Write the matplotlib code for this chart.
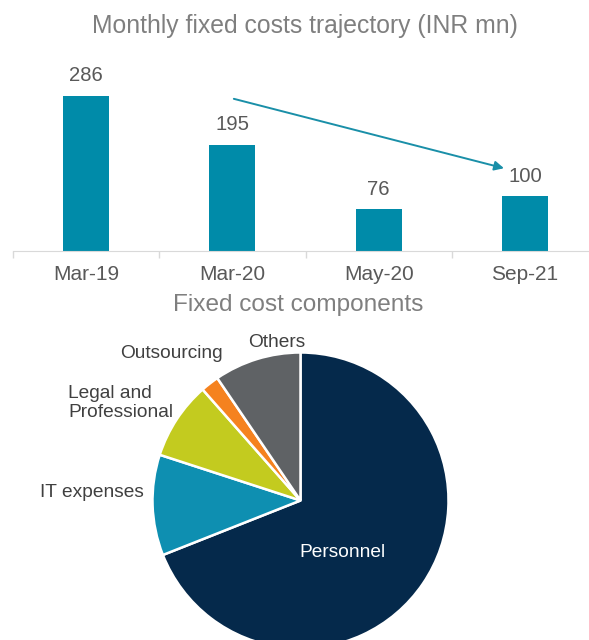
import matplotlib.pyplot as plt
import numpy as np

plt.rcParams['font.family'] = ['Liberation Sans', 'DejaVu Sans']

# ── Data ──────────────────────────────────────────────────────────────────────

months = ['Mar-19', 'Mar-20', 'May-20', 'Sep-21']
fixed_costs = [286, 195, 76, 100]

components = ['Personnel', 'IT expenses', 'Legal and\nProfessional', 'Outsourcing', 'Others']
shares = [69, 11, 8.5, 2, 9.5]

BAR_COLOUR = '#008ba9'
PIE_COLOURS = ['#05294b', '#0e8fb1', '#c3cb1f', '#f5821f', '#5f6265']
TITLE_GREY = '#7f7f7f'
TEXT_GREY = '#595959'

W, H = 589, 640
fig = plt.figure(figsize=(W / 100, H / 100), dpi=100)


def px_box(left, top, width, height):
    """Axes rect from pixel coordinates (origin top-left)."""
    return [left / W, (H - top - height) / H, width / W, height / H]


# ── Bar chart ─────────────────────────────────────────────────────────────────

ax = fig.add_axes(px_box(13, 50, 585, 200.7))
x = np.arange(len(months))
ax.bar(x, fixed_costs, width=0.315, color=BAR_COLOUR, zorder=2)
for xi, v in zip(x, fixed_costs):
    ax.annotate(f'{v}', (xi, v), xytext=(0, 14.5), textcoords='offset points',
                ha='center', va='center', fontsize=14.6, color=TEXT_GREY)

ax.set_xlim(-0.5, len(months) - 0.5)
ax.set_ylim(0, 370)
ax.set_xticks(x)
ax.set_xticklabels(months, fontsize=15, color=TEXT_GREY)
ax.set_xticks(np.arange(len(months) + 1) - 0.5, minor=True)
ax.tick_params(axis='x', which='major', length=0, pad=10)
ax.tick_params(axis='x', which='minor', length=5, color='#d9d9d9', width=1)
ax.set_yticks([])
for side in ('top', 'right', 'left'):
    ax.spines[side].set_visible(False)
ax.spines['bottom'].set_color('#d9d9d9')
ax.patch.set_alpha(0)

# downward trend arrow
ax.annotate('', xy=(2.857, 152), xytext=(1.01, 280),
            arrowprops=dict(arrowstyle='-|>', color='#1a8fa8', lw=1.4,
                            mutation_scale=14, shrinkA=0, shrinkB=0))

fig.text(305 / W, 1 - 26 / H, 'Monthly fixed costs trajectory (INR mn)',
         ha='center', va='center', fontsize=17.8, color=TITLE_GREY)

# ── Pie chart ─────────────────────────────────────────────────────────────────

fig.text(298 / W, 1 - 305 / H, 'Fixed cost components',
         ha='center', va='center', fontsize=17.6, color=TITLE_GREY)

pax = fig.add_axes(px_box(152.5, 352.5, 296, 296))
pax.pie(shares, colors=PIE_COLOURS, startangle=90, counterclock=False,
        radius=1, wedgeprops=dict(edgecolor='white', linewidth=1.8))
pax.set_xlim(-1, 1)
pax.set_ylim(-1, 1)
pax.set_axis_off()

label_kw = dict(fontsize=13.8, color='#404040', va='center')
pax.text(0.284, -0.35, components[0], ha='center', fontsize=13.8,
         color='white', va='center')
pax.text(-1.06, 0.054, components[1], ha='right', **label_kw)
pax.text(-1.57, 0.66, components[2], ha='left', multialignment='left',
         linespacing=1.15, **label_kw)
pax.text(-0.527, 0.99, components[3], ha='right', **label_kw)
pax.text(-0.159, 1.07, components[4], ha='center', **label_kw)
for t in pax.texts:
    t.set_clip_on(False)

fig.savefig('out.png', dpi=100)
